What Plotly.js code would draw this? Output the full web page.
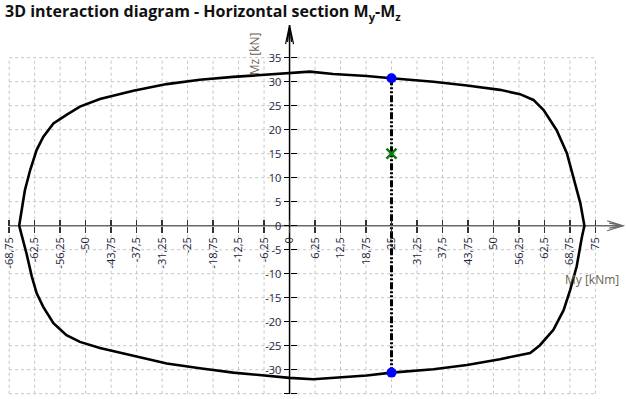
<!DOCTYPE html>
<html>
<head>
<meta charset="utf-8">
<script src="https://cdn.plot.ly/plotly-3.0.1.min.js"></script>
<style>html,body{margin:0;padding:0;background:#fff}#chart{width:626px;height:399px}</style>
</head>
<body>
<div id="chart"></div>
<script>
const tickMy = [-68.75,-62.5,-56.25,-50,-43.75,-37.5,-31.25,-25,-18.75,-12.5,-6.25,0,6.25,12.5,18.75,25,31.25,37.5,43.75,50,56.25,62.5,68.75,75];
const tickMyText = ["-68,75","-62,5","-56,25","-50","-43,75","-37,5","-31,25","-25","-18,75","-12,5","-6,25","0","6,25","12,5","18,75","25","31,25","37,5","43,75","50","56,25","62,5","68,75","75"];
const tickMz = [-35,-30,-25,-20,-15,-10,-5,0,5,10,15,20,25,30,35];
const tickMzText = ["-35","-30","-25","-20","-15","-10","-5","0","5","10","15","20","25","30","35"];

const curveMy = [-66.3,-65.7,-64.9,-63.6,-62.0,-60.4,-57.9,-54.7,-51.4,-46.5,-38.3,-30.1,-22.0,-13.8,-5.6,0,5.0,10.7,18.9,25.0,35.3,43.5,51.6,56.5,59.8,62.3,65.5,68.0,69.6,71.3,72.3,71.7,70.4,68.8,67.2,64.7,61.4,59.0,51.6,43.5,35.3,25.0,18.9,10.7,5.8,0,-5.6,-13.8,-22.0,-30.1,-38.3,-46.5,-51.4,-54.7,-57.9,-60.4,-62.0,-63.2,-64.5,-65.7,-66.3];
const curveMz = [0,3.3,7.4,11.6,15.8,18.5,21.3,23.1,24.8,26.4,28.1,29.5,30.4,31.0,31.5,31.9,32.1,31.6,31.2,30.7,30.0,29.2,28.3,27.4,26.2,24.1,19.9,15.1,10.2,4.7,0,-2.3,-8.5,-13.4,-17.6,-21.7,-24.9,-26.5,-27.8,-29.0,-29.9,-30.6,-31.2,-31.7,-32.0,-31.7,-31.2,-30.6,-29.7,-28.7,-27.1,-25.5,-24.2,-22.8,-20.3,-16.9,-14.1,-10.6,-5.8,-1.6,0];

const limitMy = [25, 25];
const limitMz = [30.7, -30.6];
const designMy = [25];
const designMz = [15];

const xRange = [-71, 82.5];
const yRange = [-36.1, 42.85];
const xTip = 81.8, yTip = 41.8;

const gridColor = '#c4c4c4';
const shapes = [];
const xMin = tickMy[0], xMax = tickMy[tickMy.length-1];
const yMin = tickMz[0], yMax = tickMz[tickMz.length-1];
tickMy.forEach(v => shapes.push({type:'line', layer:'below', xref:'x', yref:'y', x0:v, x1:v, y0:yMin, y1:yMax, line:{color:gridColor, width:1, dash:'dot'}}));
tickMz.forEach(v => shapes.push({type:'line', layer:'below', xref:'x', yref:'y', x0:xMin, x1:xMax, y0:v, y1:v, line:{color:gridColor, width:1, dash:'dot'}}));
// axis lines
shapes.push({type:'line', layer:'below', xref:'x', yref:'y', x0:xMin, x1:xTip, y0:0, y1:0, line:{color:'#6a6a6a', width:1.5}});
shapes.push({type:'line', layer:'below', xref:'x', yref:'y', x0:0, x1:0, y0:yMin, y1:yTip, line:{color:'#000', width:1.5}});
// arrow heads
shapes.push({type:'path', layer:'below', xref:'x', yref:'y', xsizemode:'pixel', ysizemode:'pixel', xanchor:xTip, yanchor:0,
  path:'M -16,5 L 0,0 L -16,-5 M -14,2.5 L 0,0 L -14,-2.5', line:{color:'#6a6a6a', width:1.2}});
shapes.push({type:'path', layer:'below', xref:'x', yref:'y', xsizemode:'pixel', ysizemode:'pixel', xanchor:0, yanchor:yTip,
  path:'M -4,-19 L 0,0 L 4,-19 M -2,-17 L 0,0 L 2,-17', line:{color:'#000', width:1.2}});

const xPos = (0 - yRange[0]) / (yRange[1] - yRange[0]);
const yPos = (0 - xRange[0]) / (xRange[1] - xRange[0]);
const tickFont = {family:'Open Sans, sans-serif', size:11, color:'#1c1c3c'};

const data = [
  {x: curveMy, y: curveMz, mode:'lines', line:{color:'#000', width:2.6}, hoverinfo:'skip', showlegend:false},
  {x: limitMy, y: limitMz, mode:'lines', line:{color:'#000', width:3, dash:'7px,2px,2px,2px,2px,2px'}, hoverinfo:'skip', showlegend:false},
  {x: limitMy, y: limitMz, mode:'markers', marker:{color:'#0000ff', size:10}, hoverinfo:'skip', showlegend:false},
  {x: designMy, y: designMz, mode:'markers', marker:{symbol:'x-thin-open', color:'#0a7a0a', size:10, line:{color:'#0a7a0a', width:2.5}}, hoverinfo:'skip', showlegend:false},
  {x: [null], y: [null], xaxis:'x2', yaxis:'y2', mode:'markers', hoverinfo:'skip', showlegend:false}
];

const layout = {
  width: 626, height: 399,
  margin: {l:0, r:0, t:20, b:0, pad:0},
  paper_bgcolor:'#fff', plot_bgcolor:'#fff',
  showlegend:false,
  title: {text:'3D interaction diagram - Horizontal section M<sub>y</sub>-M<sub>z</sub>', x:0.008, xanchor:'left', xref:'paper', y:0.985, yanchor:'top', yref:'container',
    font:{family:'Open Sans, sans-serif', size:16, weight:'bold', color:'#111'}},
  xaxis: {range:xRange, anchor:'free', position:xPos, showgrid:false, zeroline:false, showline:false,
    tickmode:'array', tickvals:tickMy, ticktext:tickMyText, tickangle:-90, ticks:'outside', ticklen:6, tickwidth:1.5, tickcolor:'#333',
    tickfont:tickFont, fixedrange:true},
  yaxis: {range:yRange, anchor:'free', position:yPos, showgrid:false, zeroline:false, showline:false,
    tickmode:'array', tickvals:tickMz, ticktext:tickMzText, ticks:'outside', ticklen:6, tickwidth:1.5, tickcolor:'#000',
    tickfont:tickFont, fixedrange:true},
  xaxis2: {range:xRange, overlaying:'x', anchor:'free', position:xPos, showgrid:false, zeroline:false, showline:false,
    tickmode:'array', tickvals:tickMy, ticks:'inside', ticklen:6, tickwidth:1.5, tickcolor:'#333', showticklabels:false, fixedrange:true},
  yaxis2: {range:yRange, overlaying:'y', anchor:'free', position:yPos, showgrid:false, zeroline:false, showline:false,
    tickmode:'array', tickvals:tickMz, ticks:'inside', ticklen:6, tickwidth:1.5, tickcolor:'#000', showticklabels:false, fixedrange:true},
  shapes: shapes,
  annotations: [
    {text:'Mz [kN]', xref:'paper', yref:'paper', x:0.406, y:0.91, textangle:-90, showarrow:false, xanchor:'center', yanchor:'middle',
      font:{family:'Open Sans, sans-serif', size:12, color:'#6a6250'}},
    {text:'My [kNm]', xref:'paper', yref:'paper', x:0.992, y:0.315, showarrow:false, xanchor:'right', yanchor:'middle',
      font:{family:'Open Sans, sans-serif', size:12, color:'#6a6250'}}
  ]
};

Plotly.newPlot('chart', data, layout, {staticPlot:true, displayModeBar:false});
</script>
</body>
</html>
